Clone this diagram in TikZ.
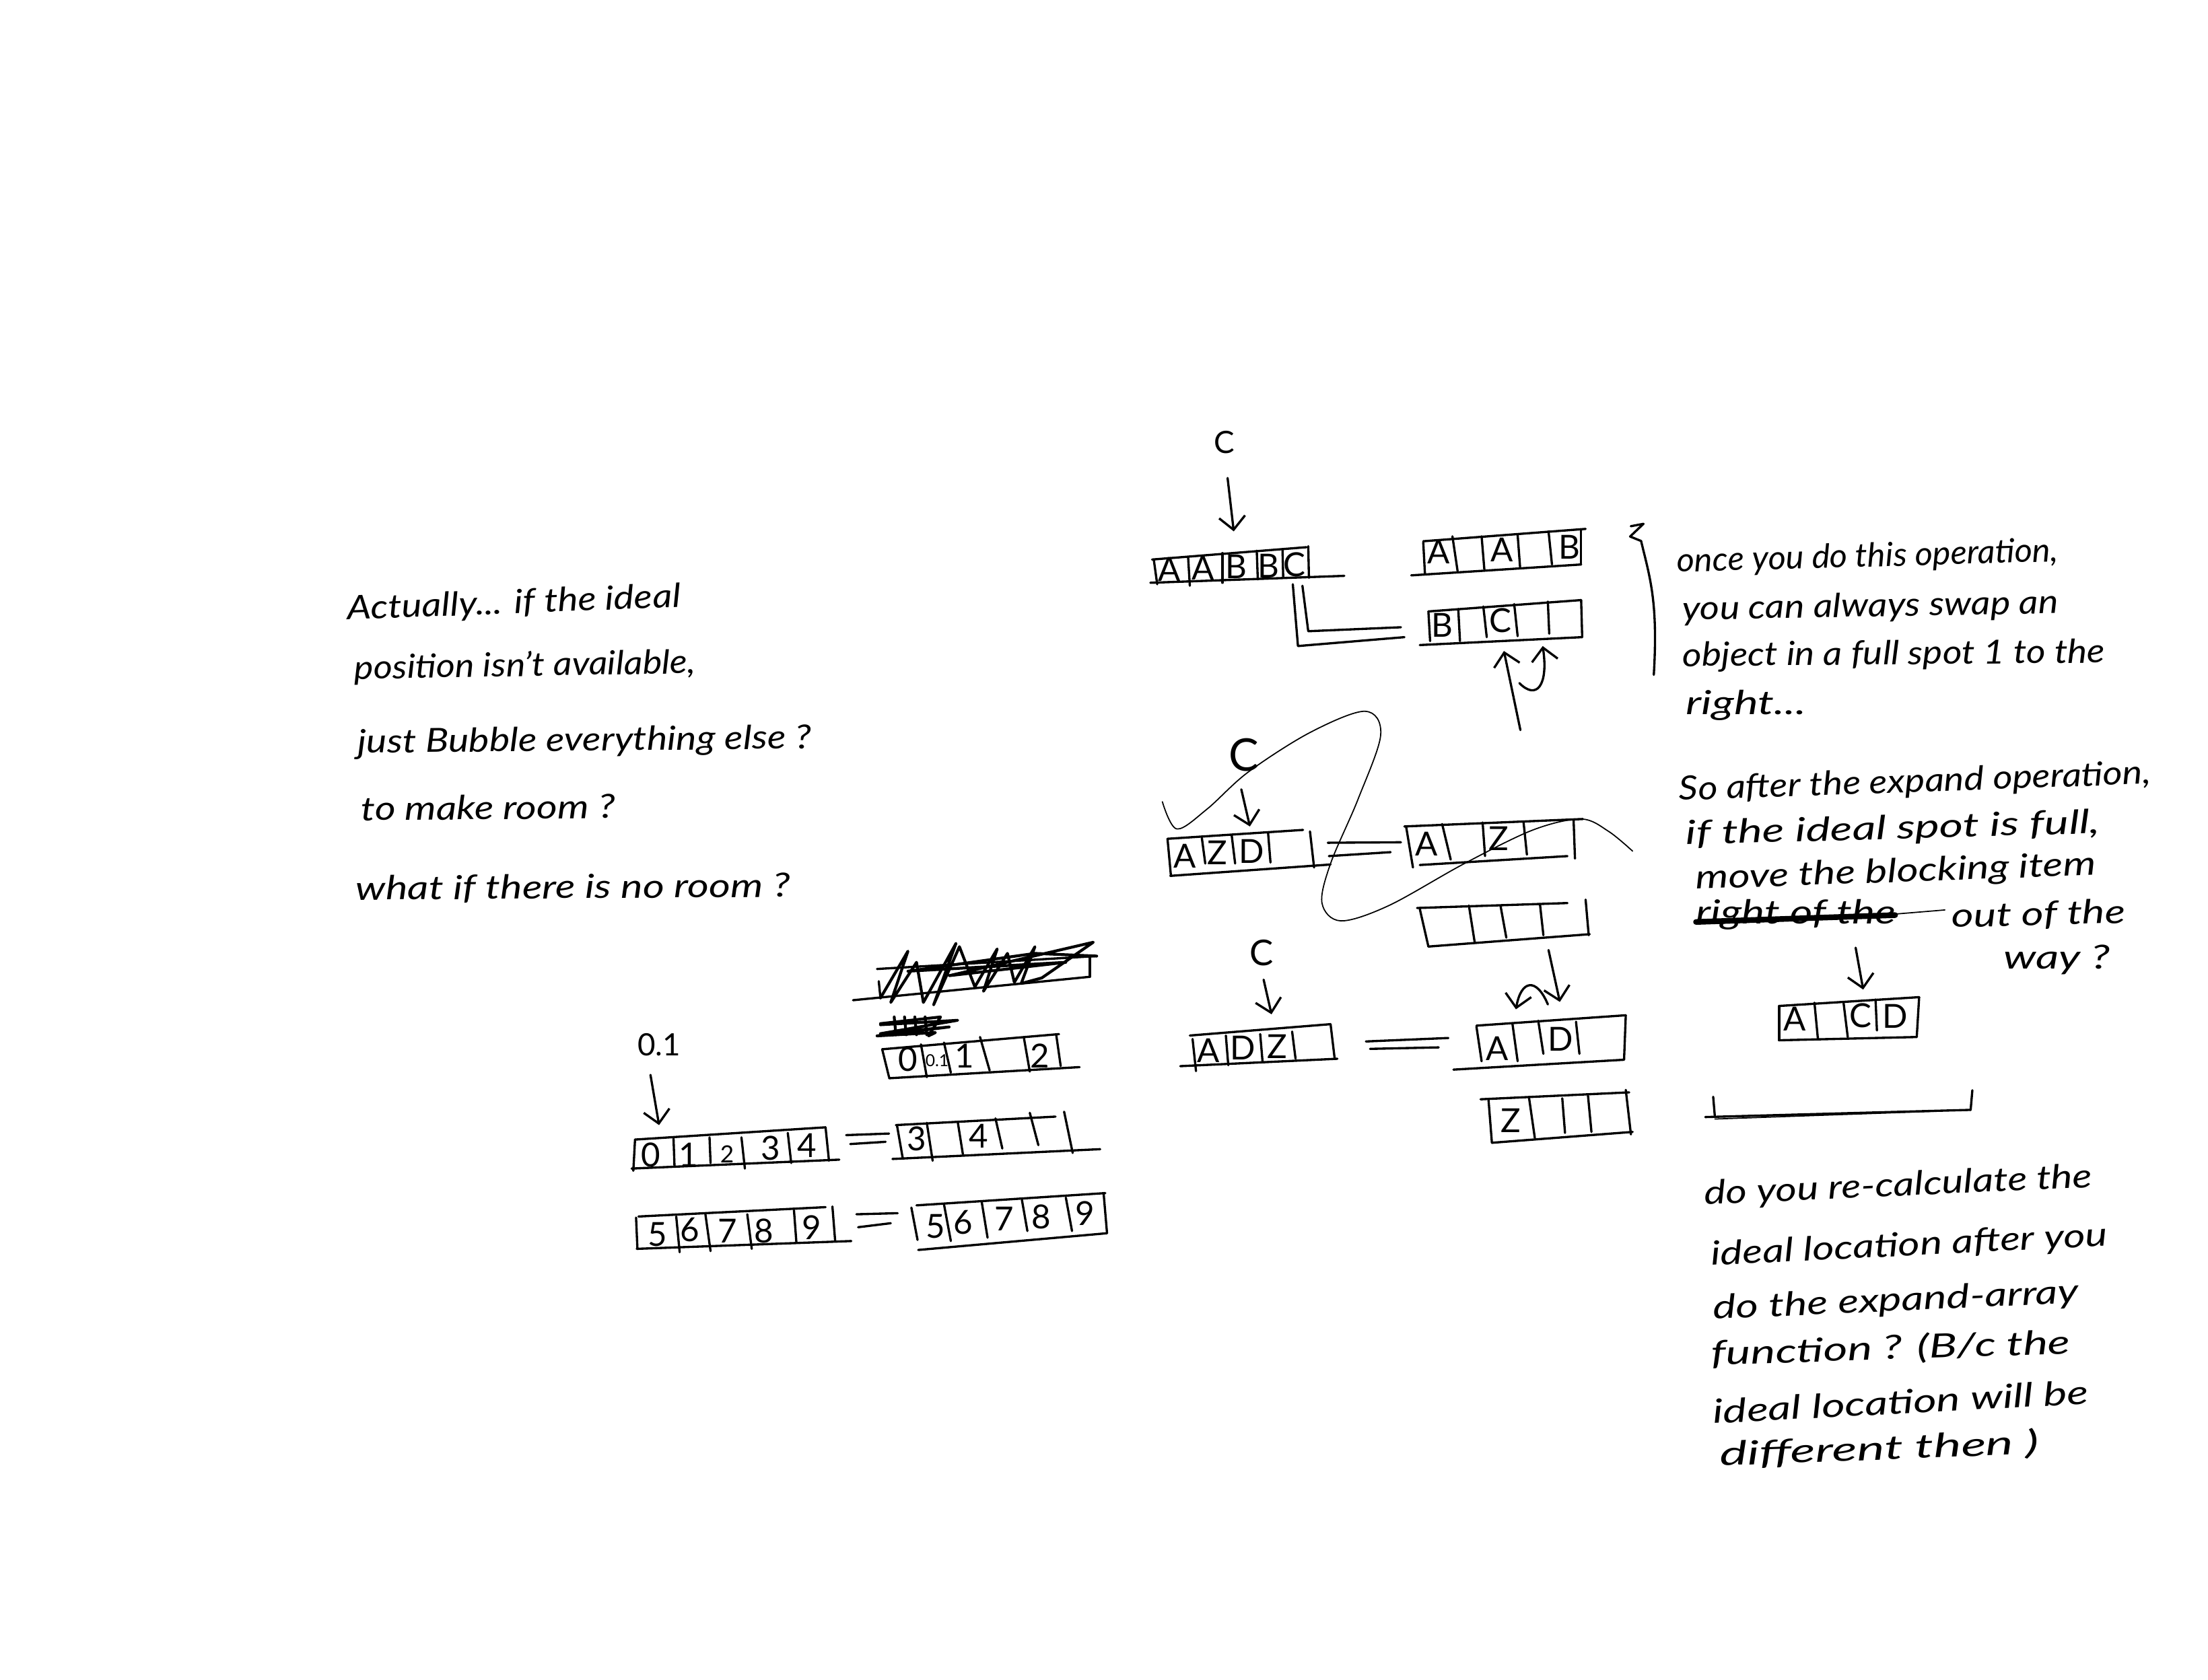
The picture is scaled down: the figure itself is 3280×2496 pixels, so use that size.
\documentclass[tikz,border=0pt]{standalone}
\usepackage{fontspec}
\usepackage{graphicx}
\usepackage{tikz}
\usetikzlibrary{arrows.meta}
\setmainfont{Lato}
\newcommand{\handline}[2]{\resizebox{#1cm}{\height}{#2}}
\tikzset{
  pen/.style={draw=black,line width=0.95pt,line cap=round,line join=round},
  thin pen/.style={draw=black,line width=0.5pt,line cap=round},
  arrowed/.style={pen,-{Straight Barb[length=5.5pt,width=11pt]}},
  scribble/.style={pen,line width=1.2pt},
  cell/.style={inner sep=0pt,font=\fontsize{14}{14}\selectfont},
  small cell/.style={inner sep=0pt,font=\fontsize{7}{7}\selectfont},
  tag/.style={inner sep=0pt,font=\fontsize{13}{13}\selectfont},
  note/.style={anchor=base west,inner sep=0pt,font=\fontsize{14}{14}\selectfont\itshape}
}
\begin{document}
\begin{tikzpicture}[x=0.01cm,y=-0.01cm]
  \path[use as bounding box,fill=white] (0,0) rectangle (3280,2496);
  % left note
  \node[note,rotate=2.2] (left1) at (516,921) {\handline{4.95}{Actually... if the ideal}};
  \node[note,rotate=1] (left2) at (526,1009) {\handline{5.07}{position isn't available,}};
  \node[note,rotate=0.6] (left3) at (531,1119) {\handline{6.73}{just Bubble everything else ?}};
  \node[note,rotate=0.5] (left4) at (536,1219) {\handline{3.77}{to make room ?}};
  \node[note,rotate=0.4] (left5) at (528,1337) {\handline{6.45}{what if there is no room ?}};
  % right notes
  \node[note,rotate=1.6] (once1) at (2491,850) {\handline{5.66}{once you do this operation,}};
  \node[note,rotate=1] (once2) at (2499,921) {\handline{5.58}{you can always swap an}};
  \node[note,rotate=0.5] (once3) at (2499,990) {\handline{6.27}{object in a full spot 1 to the}};
  \node[note] (once4) at (2504,1061) {\handline{1.78}{right...}};
  \node[note,rotate=2] (after1) at (2494,1189) {\handline{7.01}{So after the expand operation,}};
  \node[note,rotate=1.6] (after2) at (2504,1255) {\handline{6.15}{if the ideal spot is full,}};
  \node[note,rotate=2] (after3) at (2519,1321) {\handline{5.94}{move the blocking item}};
  \node[note] (after4) at (2519,1372) {\handline{2.96}{right of the}};
  \node[note,rotate=1.5] (after5) at (2899,1378) {\handline{2.58}{out of the}};
  \node[note] (after6) at (2976,1439) {\handline{1.58}{way ?}};
  \node[note,rotate=2.6] (redo1) at (2532,1790) {\handline{5.76}{do you re-calculate the}};
  \node[note,rotate=2.8] (redo2) at (2542,1880) {\handline{5.89}{ideal location after you}};
  \node[note,rotate=2.6] (redo3) at (2545,1960) {\handline{5.43}{do the expand-array}};
  \node[note,rotate=1.8] (redo4) at (2542,2028) {\handline{5.33}{function ? (B/c the}};
  \node[note,rotate=3] (redo5) at (2545,2115) {\handline{5.58}{ideal location will be}};
  \node[note,rotate=2.2] (redo6) at (2555,2178) {\handline{4.74}{different then )}};

  % centre column
  \begin{scope}[shift={(1640,600)},x=0.005102cm,y=-0.007337cm]
    \node[tag] (topc) at (350,78) {C};
    \coordinate (topca) at (360,150);
    \coordinate (topcb) at (378,258);
    \draw[arrowed] (topca)--(topcb);
    \foreach \xa/\ya/\xb/\yb in {140/315/590/290,135/362/700/348,145/315/155/365,245/310/250/368,345/302/345/362,445/297/448/355,520/295/522/350,595/288/597/352}
      \draw[pen] (\xa,\ya)--(\xb,\yb);
    \foreach \lab/\x/\y [count=\n] in {A/190/335,A/288/332,B/385/330,B/480/328,C/555/325}
      \node[cell] (first\n) at (\x,\y) {\lab};
    \foreach \xa/\ya/\xb/\yb in {930/278/1403/253,895/347/1390/325,930/280/935/345,1015/268/1030/338,1100/268/1108/335,1205/265/1212/330,1295/258/1305/325,1390/255/1390/325}
      \draw[pen] (\xa,\ya)--(\xb,\yb);
    \foreach \lab/\x/\y [count=\n] in {A/975/300,A/1160/295,B/1355/290}
      \node[cell] (upper\n) at (\x,\y) {\lab};
    \foreach \xa/\ya/\xb/\yb in {945/420/1390/397,920/488/1393/472,945/420/950/480,1032/415/1037/480,1105/410/1115/472,1195/405/1205/470,1293/400/1297/465,1390/397/1393/472}
      \draw[pen] (\xa,\ya)--(\xb,\yb);
    \foreach \lab/\x/\y [count=\n] in {B/985/448,C/1155/438}
      \node[cell] (lower\n) at (\x,\y) {\lab};
    \draw[pen] (550,365)--(565,490)--(875,472);
    \draw[pen] (578,368)--(595,460)--(865,452);
    \coordinate (swapa) at (1213,660);
    \coordinate (swapb) at (1165,500);
    \draw[arrowed] (swapa)--(swapb);
    \coordinate (hopa) at (1210,565);
    \coordinate (hopb) at (1278,490);
    \draw[arrowed] (hopa) .. controls (1260,600) and (1295,570) .. (hopb);

    \draw[thin pen] plot[smooth,tension=0.55] coordinates {(170,805) (212,860) (300,820) (420,745) (600,665) (760,622) (806,670) (740,800) (660,930) (635,1010) (690,1046) (830,1015) (1050,930) (1250,862) (1390,840) (1470,865) (1540,905)};
    \node[tag,font=\fontsize{19}{19}\selectfont] (midc) at (408,710) {C};
    \coordinate (midca) at (400,780);
    \coordinate (midcb) at (425,855);
    \draw[arrowed] (midca)--(midcb);
    \foreach \xa/\ya/\xb/\yb in {185/880/580/862,193/955/660/932,185/880/195/955,285/878/295/930,372/873/382/930,478/868/485/928,600/865/612/938,652/888/865/887,655/915/835/907}
      \draw[pen] (\xa,\ya)--(\xb,\yb);
    \foreach \lab/\x/\y [count=\n] in {A/235/915,Z/330/908,D/430/905}
      \node[cell] (mid\n) at (\x,\y) {\lab};
    \foreach \xa/\ya/\xb/\yb in {875/855/1395/840,920/933/1350/915,880/855/900/938,985/850/1010/922,1103/847/1110/915,1222/845/1232/912,1368/842/1372/920}
      \draw[pen] (\xa,\ya)--(\xb,\yb);
    \foreach \lab/\x/\y [count=\n] in {A/940/890,Z/1150/880}
      \node[cell] (midr\n) at (\x,\y) {\lab};
    \foreach \xa/\ya/\xb/\yb in {912/1020/1350/1010,945/1098/1415/1073,920/1022/945/1098,1063/1015/1080/1090,1155/1015/1172/1080,1270/1012/1280/1075,1403/1003/1412/1075}
      \draw[pen] (\xa,\ya)--(\xb,\yb);
    \coordinate (dropa) at (1295,1105);
    \coordinate (dropb) at (1328,1210);
    \draw[arrowed] (dropa)--(dropb);
    \coordinate (backa) at (1293,1215);
    \coordinate (backb) at (1200,1225);
    \draw[arrowed] (backa) .. controls (1260,1160) and (1215,1165) .. (backb);

    \node[tag,font=\fontsize{15}{15}\selectfont] (lowc) at (460,1110) {C};
    \coordinate (lowca) at (465,1165);
    \coordinate (lowcb) at (488,1235);
    \draw[arrowed] (lowca)--(lowcb);
    \foreach \xa/\ya/\xb/\yb in {250/1278/660/1255,222/1340/680/1325,258/1285/268/1350,355/1278/362/1338,455/1275/462/1332,548/1270/558/1325,660/1255/672/1325,763/1290/1003/1283,775/1305/975/1302}
      \draw[pen] (\xa,\ya)--(\xb,\yb);
    \foreach \lab/\x/\y [count=\n] in {A/305/1308,D/405/1303,Z/505/1300}
      \node[cell] (low\n) at (\x,\y) {\lab};
    \foreach \xa/\ya/\xb/\yb in {1085/1258/1520/1237,1520/1237/1515/1327,1018/1347/1515/1327,1085/1260/1100/1330,1190/1255/1205/1330,1265/1248/1280/1315,1375/1250/1385/1315}
      \draw[pen] (\xa,\ya)--(\xb,\yb);
    \foreach \lab/\x/\y [count=\n] in {A/1145/1305,D/1330/1285}
      \node[cell] (lowr\n) at (\x,\y) {\lab};
    \foreach \xa/\ya/\xb/\yb in {1097/1407/1530/1393,1130/1495/1540/1473,1120/1407/1130/1495,1238/1403/1255/1485,1335/1405/1343/1475,1410/1400/1420/1473,1520/1388/1535/1478}
      \draw[pen] (\xa,\ya)--(\xb,\yb);
    \node[cell] (last1) at (1185,1450) {Z};
  \end{scope}

  % numbers at the bottom
  \begin{scope}[shift={(900,1380)},x=0.005102cm,y=-0.003317cm]
    \foreach \xa/\ya/\xb/\yb in {790/180/1430/122,720/320/1410/215,1410/120/1410/215,795/235/800/310}
      \draw[pen] (\xa,\ya)--(\xb,\yb);
    \draw[scribble] (800,310)--(880,100)--(830,330)--(905,150)--(925,330)--(1020,65)--(955,340)--(1030,80)--(1075,260)--(1140,90)--(1100,280)--(1170,110)--(1190,240)--(1250,80)--(1210,245)--(1270,220)--(1420,60)--(1000,210)--(1340,150)--(880,190)--(1250,110)--(1430,122);
    \draw[scribble] (800,430)--(1025,410)--(800,470)--(1000,440)--(790,480)--(960,465)--(940,480)--(975,395)--(800,425);
    \foreach \x in {840,870,900,930}
      \draw[scribble] (\x,395)--(\x+5,475);
    \node[tag] (pointone) at (155,520) {0.1};
    \coordinate (pointa) at (130,655);
    \coordinate (pointb) at (155,880);
    \draw[arrowed] (pointa)--(pointb);
    \foreach \xa/\ya/\xb/\yb in {805/540/1320/472,825/670/1380/620,805/540/825/665,918/518/935/665,985/510/1005/645,1090/485/1118/635,1218/490/1235/640,1312/475/1325/615}
      \draw[pen] (\xa,\ya)--(\xb,\yb);
    \foreach \lab/\x/\y [count=\n] in {0/880/585,1/1045/570,2/1265/570}
      \node[cell] (split\n) at (\x,\y) {\lab};
    \node[small cell] (split4) at (965,590) {0.1};
    \foreach \xa/\ya/\xb/\yb in {85/945/640/890,75/1075/680/1035,85/945/80/1085,197/935/200/1065,302/935/305/1050,395/935/405/1075,530/915/540/1050,640/890/650/1040,700/925/825/918,712/965/815/955}
      \draw[pen] (\xa,\ya)--(\xb,\yb);
    \foreach \lab/\x/\y [count=\n] in {0/130/1015,1/240/1015,3/480/985,4/585/970}
      \node[cell] (rowa\n) at (\x,\y) {\lab};
    \node[small cell,font=\fontsize{10}{10}\selectfont] (rowa5) at (353,1010) {2};
    \foreach \xa/\ya/\xb/\yb in {845/880/1310/842,835/1032/1440/988,848/880/865/1030,935/870/952/1040,1025/865/1040/1010,1135/850/1155/985,1235/825/1260/970,1335/820/1360/1005}
      \draw[pen] (\xa,\ya)--(\xb,\yb);
    \foreach \lab/\x/\y [count=\n] in {3/905/940,4/1085/930}
      \node[cell] (rowb\n) at (\x,\y) {\lab};
    \foreach \xa/\ya/\xb/\yb in {95/1290/640/1248,90/1435/715/1400,88/1295/92/1435,205/1290/215/1450,290/1280/305/1445,412/1280/425/1435,548/1262/555/1405,660/1245/668/1400,730/1280/850/1275,735/1338/830/1320}
      \draw[pen] (\xa,\ya)--(\xb,\yb);
    \foreach \lab/\x/\y [count=\n] in {5/150/1370,6/245/1350,7/355/1355,8/460/1355,9/600/1340}
      \node[cell] (rowc\n) at (\x,\y) {\lab};
    \foreach \xa/\ya/\xb/\yb in {905/1240/1455/1185,910/1440/1460/1365,890/1250/908/1395,985/1235/1005/1400,1095/1225/1112/1385,1212/1215/1228/1355,1340/1205/1358/1355,1450/1185/1460/1365}
      \draw[pen] (\xa,\ya)--(\xb,\yb);
    \foreach \lab/\x/\y [count=\n] in {5/960/1335,6/1040/1315,7/1160/1300,8/1268/1290,9/1395/1275}
      \node[cell] (rowd\n) at (\x,\y) {\lab};
  \end{scope}

  % right column
  \begin{scope}[shift={(2420,740)},x=0.005102cm,y=-0.005102cm]
    \draw[pen] (5,82)--(42,75)--(3,112)--(35,125) .. controls (60,230) and (85,300) .. (72,515);
    \draw[pen,line width=2.4pt] (195,1235)--(775,1215);
    \draw[thin pen] (775,1212)--(920,1200);
    \coordinate (itema) at (660,1310);
    \coordinate (itemb) at (682,1432);
    \draw[arrowed] (itema)--(itemb);
  \end{scope}
  \begin{scope}[shift={(2420,1480)},x=0.005102cm,y=-0.004845cm]
    \foreach \xa/\ya/\xb/\yb in {437/30/845/3,437/135/838/125,437/30/437/135,540/20/550/130,625/22/637/125,718/10/722/105,845/3/838/125,245/308/250/370,222/370/995/348,995/348/1000/288}
      \draw[pen] (\xa,\ya)--(\xb,\yb);
    \draw[thin pen] (250,376)--(900,352);
    \foreach \lab/\x/\y [count=\n] in {A/483/70,C/675/60,D/775/62}
      \node[cell] (moved\n) at (\x,\y) {\lab};
  \end{scope}
\end{tikzpicture}
\end{document}
